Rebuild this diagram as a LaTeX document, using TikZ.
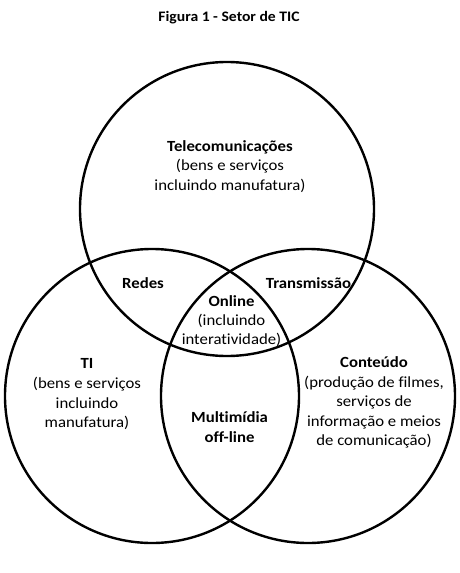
\documentclass[tikz,border=0pt]{standalone}
\usepackage{fontspec}
\setmainfont{Carlito}[FakeStretch=1.08,Ligatures={NoCommon,TeX}]
\begin{document}
\begin{tikzpicture}[x=1pt,y=-1pt,
  ring/.style={circle,draw,line width=2.4pt,minimum size=294pt,inner sep=0pt},
  lbl/.style={align=center,font=\fontsize{15.5}{19.6}\selectfont,inner sep=0pt,anchor=base},
  ttl/.style={font=\fontsize{14.5}{16}\selectfont\bfseries,inner sep=0pt,anchor=base}]
\useasboundingbox (0,0) rectangle (459,573);
\node[ring] (tele) at (227,209) {};
\node[ring] (ti) at (152,396) {};
\node[ring] (cont) at (308,396) {};
\node[ttl] (title) at (229,21.5) {Figura 1 - Setor de TIC};
\node[lbl] (telet1) at (230,151) {\textbf{Telecomunicações}};
\node[lbl] (telet2) at (230,170.5) {(bens e serviços};
\node[lbl] (telet3) at (230,190) {incluindo manufatura)};
\node[lbl] (redes) at (143,288) {\textbf{Redes}};
\node[lbl] (trans) at (308.5,288) {\textbf{Transmissão}};
\node[lbl] (online1) at (231.5,306) {\textbf{Online}};
\node[lbl] (online2) at (231.5,325) {(incluindo};
\node[lbl] (online3) at (231.5,344) {interatividade)};
\node[lbl] (ti1) at (87,368) {\textbf{TI}};
\node[lbl] (ti2) at (87,388) {(bens e serviços};
\node[lbl] (ti3) at (87,408) {incluindo};
\node[lbl] (ti4) at (87,427) {manufatura)};
\node[lbl] (ct1) at (374,367) {\textbf{Conteúdo}};
\node[lbl] (ct2) at (374,387) {(produção de filmes,};
\node[lbl] (ct3) at (374,406.5) {serviços de};
\node[lbl] (ct4) at (374,426) {informação e meios};
\node[lbl] (ct5) at (374,445) {de comunicação)};
\node[lbl] (mm1) at (229.5,422) {\textbf{Multimídia}};
\node[lbl] (mm2) at (229.5,442) {\textbf{off-line}};
\end{tikzpicture}
\end{document}
